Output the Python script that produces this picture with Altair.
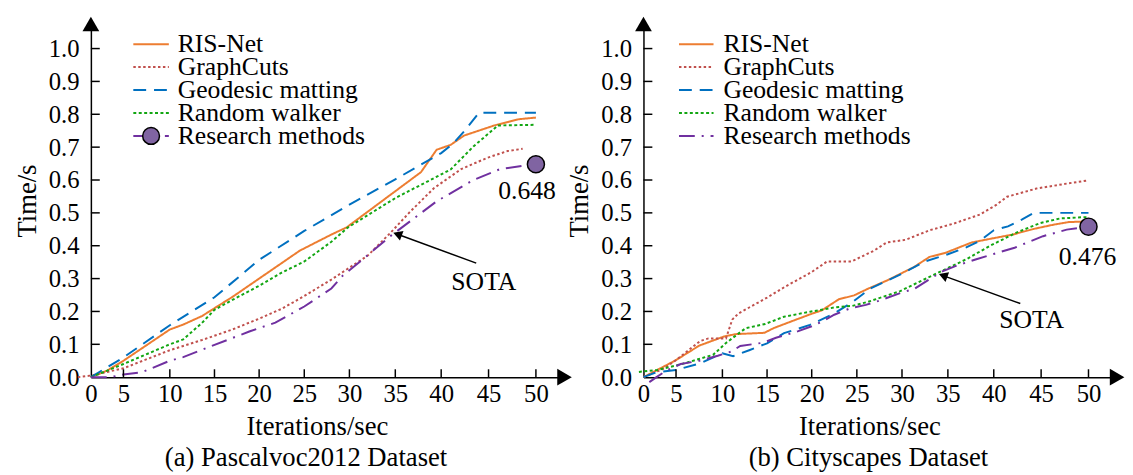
import altair as alt
import pandas as pd

SERIES = ["RIS-Net", "GraphCuts", "Geodesic matting", "Random walker", "Research methods"]
COLORS = ["#ED7D31", "#C0504D", "#0070C0", "#12A612", "#7030A0"]
DASHES = [[1, 0], [2.5, 2.5], [13, 8], [3, 2.5], [16, 7, 2, 7]]
X_TICKS = [0, 5, 10, 15, 20, 25, 30, 35, 40, 45, 50]
Y_TICKS = [0.0, 0.1, 0.2, 0.3, 0.4, 0.5, 0.6, 0.7, 0.8, 0.9, 1.0]
FONT = "Liberation Serif"

# ---------- (a) Pascalvoc2012 ----------
A_RIS_X = [0, 2.5, 5, 10, 11.5, 13.6, 17, 20, 24.5, 28, 29.7, 37.8, 39.5, 41, 42.4, 45.6, 48.2, 50]
A_RIS_Y = [0, 0.02, 0.05, 0.145, 0.16, 0.186, 0.244, 0.3, 0.385, 0.434, 0.456, 0.624, 0.692, 0.707, 0.735, 0.766, 0.785, 0.79]
A_GC_X = [-2, 0, 5, 10, 11.5, 13.6, 16.9, 20, 22.5, 25, 28, 29.6, 32, 34.5, 36.6, 39.2, 42.1, 44.9, 47, 48.6]
A_GC_Y = [0, 0.005, 0.027, 0.082, 0.095, 0.113, 0.144, 0.178, 0.208, 0.247, 0.297, 0.326, 0.37, 0.44, 0.503, 0.575, 0.633, 0.668, 0.688, 0.695]
A_GM_X = [0, 5, 10, 15, 20, 25, 30, 35, 40, 41.3, 42.6, 44, 50]
A_GM_Y = [0, 0.06, 0.158, 0.243, 0.357, 0.445, 0.525, 0.602, 0.682, 0.712, 0.754, 0.805, 0.805]
A_RW_X = [0, 2.5, 5, 10, 11.5, 13.6, 15, 17, 20, 22.5, 25, 28, 29.8, 35, 41, 43.4, 46, 50]
A_RW_Y = [0, 0.02, 0.04, 0.1, 0.115, 0.165, 0.205, 0.235, 0.278, 0.318, 0.352, 0.412, 0.455, 0.545, 0.632, 0.702, 0.766, 0.768]
A_RM_X = [0, 3, 5, 7, 10, 11.5, 14.6, 18.9, 21.8, 25, 28, 29.3, 30.6, 34.5, 39.5, 43.4, 46.2, 48.5, 50]
A_RM_Y = [0, 0, 0.008, 0.015, 0.05, 0.061, 0.094, 0.139, 0.166, 0.215, 0.27, 0.31, 0.339, 0.43, 0.535, 0.6, 0.633, 0.643, 0.648]

# ---------- (b) Cityscapes ----------
B_RIS_X = [0, 5, 7.5, 10.2, 11.5, 14.7, 15.8, 19.9, 21.1, 23, 24.7, 26.3, 28.4, 31.3, 33, 34.7, 37.6, 39.8, 42, 44.2, 46.3, 47.9, 50]
B_RIS_Y = [0, 0.052, 0.096, 0.124, 0.131, 0.135, 0.15, 0.192, 0.203, 0.237, 0.249, 0.27, 0.295, 0.335, 0.366, 0.378, 0.41, 0.422, 0.434, 0.451, 0.464, 0.472, 0.474]
B_GC_X = [0, 3, 5, 7.6, 8.5, 10.4, 11.1, 11.8, 13, 15, 17, 20, 21.7, 24.4, 26.9, 28.3, 30.4, 33, 35.6, 38.5, 40.3, 41.4, 44.5, 47.7, 50]
B_GC_Y = [0, 0.025, 0.052, 0.11, 0.118, 0.118, 0.175, 0.194, 0.212, 0.242, 0.275, 0.32, 0.352, 0.352, 0.385, 0.41, 0.418, 0.447, 0.467, 0.495, 0.525, 0.549, 0.574, 0.589, 0.599]
B_GM_X = [0, 2, 5, 7.5, 10, 11.2, 13, 15, 16.9, 19.8, 22.5, 24.5, 26.5, 28.3, 30, 32.5, 35, 37, 38.5, 40, 41.5, 43, 44.2, 50]
B_GM_Y = [0, 0.015, 0.022, 0.041, 0.073, 0.064, 0.082, 0.103, 0.134, 0.159, 0.194, 0.228, 0.27, 0.293, 0.315, 0.352, 0.374, 0.395, 0.415, 0.447, 0.459, 0.48, 0.5, 0.5]
B_RW_X = [-0.7, 2.1, 5.4, 9, 10.4, 12.6, 14.8, 16.9, 19.8, 22.5, 24.5, 26.2, 29.8, 33.5, 37.1, 39.6, 42.4, 44.9, 47, 49.6, 50]
B_RW_Y = [0.016, 0.022, 0.038, 0.068, 0.104, 0.149, 0.162, 0.184, 0.199, 0.212, 0.217, 0.229, 0.262, 0.312, 0.36, 0.4, 0.44, 0.469, 0.483, 0.487, 0.487]
B_RM_X = [0.9, 2, 3.5, 5.5, 7.5, 9.5, 11, 12, 14.6, 16, 18.5, 20, 21.2, 22.5, 24.3, 26, 27.4, 30, 31.3, 33, 34.4, 36, 38.1, 40, 42.2, 45.2, 47.7, 50]
B_RM_Y = [-0.015, 0.0, 0.02, 0.04, 0.05, 0.065, 0.078, 0.095, 0.105, 0.12, 0.14, 0.155, 0.17, 0.19, 0.21, 0.22, 0.232, 0.258, 0.268, 0.298, 0.322, 0.34, 0.359, 0.375, 0.394, 0.429, 0.449, 0.458]

# annotations: arrow tail (x, y) -> head (x2, y2), text position, marker value, marker label
A_SOTA = {"x": 43.7, "y": 0.347, "x2": 35.24, "y2": 0.435, "tx": 44.5, "ty": 0.29, "angle": 290}
B_SOTA = {"x": 42.8, "y": 0.224, "x2": 34.48, "y2": 0.309, "tx": 44.0, "ty": 0.173, "angle": 290}
A_MARK = {"x": 50, "y": 0.648, "label": "0.648"}
B_MARK = {"x": 50, "y": 0.458, "label": "0.476"}

XMAX = 53.0
YMAX = 1.075
PW, PH = 480, 358

XS = alt.Scale(domain=[0, 5, 10, 20, 30, 40, 50, XMAX], range=[0, 33, 80, 170.5, 262, 355, 451, PW], nice=False)
YS = alt.Scale(domain=[0, YMAX], nice=False, zero=False)
ONE = pd.DataFrame({"k": [0]})

AXIS_STYLE = dict(labelFont=FONT, titleFont=FONT, labelFontSize=25, titleFontSize=27,
                  labelColor="black", titleColor="black", titleFontWeight="normal",
                  domainColor="black", domainWidth=1.5, ticks=False, grid=False,
                  labelFlush=False, labelOverlap=False)


def long_df(pairs):
    rows = []
    for name, xs, ys in pairs:
        for i, (xv, yv) in enumerate(zip(xs, ys)):
            rows.append({"x": xv, "y": yv, "s": name, "i": i})
    return pd.DataFrame(rows)


def panel(pairs, caption, cap_x, sota, mark, label_dx, label_dy, leg, circle_in_legend):
    df = long_df(pairs)
    xaxis = alt.Axis(values=X_TICKS, title="Iterations/sec", labelPadding=5,
                     titleX=229, titleY=58, titleBaseline="alphabetic",
                     titleAlign="center", labelAngle=0, **AXIS_STYLE)
    yaxis = alt.Axis(values=Y_TICKS, format=".1f", title="Time/s", labelPadding=12,
                     titlePadding=7, **AXIS_STYLE)

    def X(f):
        return alt.X(f, scale=XS, axis=xaxis)

    def Y(f):
        return alt.Y(f, scale=YS, axis=yaxis)

    lines = alt.Chart(df).mark_line(strokeWidth=2).encode(
        x=X("x:Q"), y=Y("y:Q"),
        color=alt.Color("s:N", scale=alt.Scale(domain=SERIES, range=COLORS), legend=None),
        strokeDash=alt.StrokeDash("s:N", scale=alt.Scale(domain=SERIES, range=DASHES), legend=None),
        order="i:Q",
    )
    xt = alt.Chart(pd.DataFrame({"x": X_TICKS[1:]})).mark_rule(color="black", strokeWidth=1.5).encode(
        x=X("x:Q"), y=alt.YDatum(0, scale=YS, axis=yaxis), y2=alt.value(PH - 8))
    yt = alt.Chart(pd.DataFrame({"y": Y_TICKS[1:]})).mark_rule(color="black", strokeWidth=1.5).encode(
        y=Y("y:Q"), x=alt.XDatum(0, scale=XS, axis=xaxis), x2=alt.value(9))
    arrows = alt.Chart(pd.DataFrame({"x": [XMAX, 0], "y": [0, YMAX],
                                     "shape": ["triangle-right", "triangle-up"]})).mark_point(
        filled=True, color="black", size=289, opacity=1).encode(
        x=X("x:Q"), y=Y("y:Q"), shape=alt.Shape("shape:N", scale=None))
    sdf = pd.DataFrame([sota])
    srule = alt.Chart(sdf).mark_rule(color="black", strokeWidth=1.5).encode(
        x=X("x:Q"), y=Y("y:Q"), x2="x2:Q", y2="y2:Q")
    shead = alt.Chart(sdf).mark_point(shape="triangle-up", angle=sota["angle"], filled=True,
                                      color="black", size=110, opacity=1).encode(
        x=X("x2:Q"), y=Y("y2:Q"))
    stext = alt.Chart(sdf).mark_text(font=FONT, fontSize=26, color="black").encode(
        x=X("tx:Q"), y=Y("ty:Q"), text=alt.value("SOTA"))
    mdf = pd.DataFrame([mark])
    mcirc = alt.Chart(mdf).mark_circle(fill="#8064A2", stroke="black", strokeWidth=1.5,
                                       size=300, opacity=1).encode(x=X("x:Q"), y=Y("y:Q"))
    mtext = alt.Chart(mdf).mark_text(font=FONT, fontSize=26, color="black",
                                     dx=label_dx, dy=label_dy).encode(
        x=X("x:Q"), y=Y("y:Q"), text="label:N")
    cap = alt.Chart(ONE).mark_text(font=FONT, fontSize=27, color="black", align="center",
                                   baseline="alphabetic").encode(
        x=alt.value(cap_x), y=alt.value(PH + 90), text=alt.value(caption))
    layers = [lines, xt, yt, arrows, srule, shead, stext, mcirc, mtext, cap]
    x0, x1, tx, y0, dy = leg
    for i, name in enumerate(SERIES):
        ry = y0 + i * dy
        layers.append(alt.Chart(ONE).mark_rule(color=COLORS[i], strokeDash=DASHES[i], strokeWidth=2).encode(
            x=alt.value(x0), x2=alt.value(x1), y=alt.value(ry)))
        layers.append(alt.Chart(ONE).mark_text(font=FONT, fontSize=26, color="black", align="left",
                                               baseline="middle").encode(
            x=alt.value(tx), y=alt.value(ry), text=alt.value(name)))
    if circle_in_legend:
        layers.append(alt.Chart(ONE).mark_circle(fill="#8064A2", stroke="black", strokeWidth=1.5,
                                                 size=290, opacity=1).encode(
            x=alt.value((x0 + x1) / 2), y=alt.value(y0 + 4 * dy)))
    return alt.layer(*layers).properties(width=PW, height=PH)


left = panel([("RIS-Net", A_RIS_X, A_RIS_Y), ("GraphCuts", A_GC_X, A_GC_Y),
              ("Geodesic matting", A_GM_X, A_GM_Y), ("Random walker", A_RW_X, A_RW_Y),
              ("Research methods", A_RM_X, A_RM_Y)],
             "(a) Pascalvoc2012 Dataset", 218, A_SOTA, A_MARK, -9, 27,
             (43, 79, 88, 20.5, 23.25), True)
right = panel([("RIS-Net", B_RIS_X, B_RIS_Y), ("GraphCuts", B_GC_X, B_GC_Y),
               ("Geodesic matting", B_GM_X, B_GM_Y), ("Random walker", B_RW_X, B_RW_Y),
               ("Research methods", B_RM_X, B_RM_Y)],
              "(b) Cityscapes Dataset", 228, B_SOTA, B_MARK, -1, 31,
              (36, 71, 81, 20.5, 23.25), False)

chart = alt.hconcat(left, right, spacing=80, bounds="flush").properties(
    padding={"left": 5, "top": 5, "right": 0, "bottom": 0}
).configure_view(stroke=None).configure_axis(**AXIS_STYLE)

chart.save("out.html", embed_options={"renderer": "svg", "actions": False})
